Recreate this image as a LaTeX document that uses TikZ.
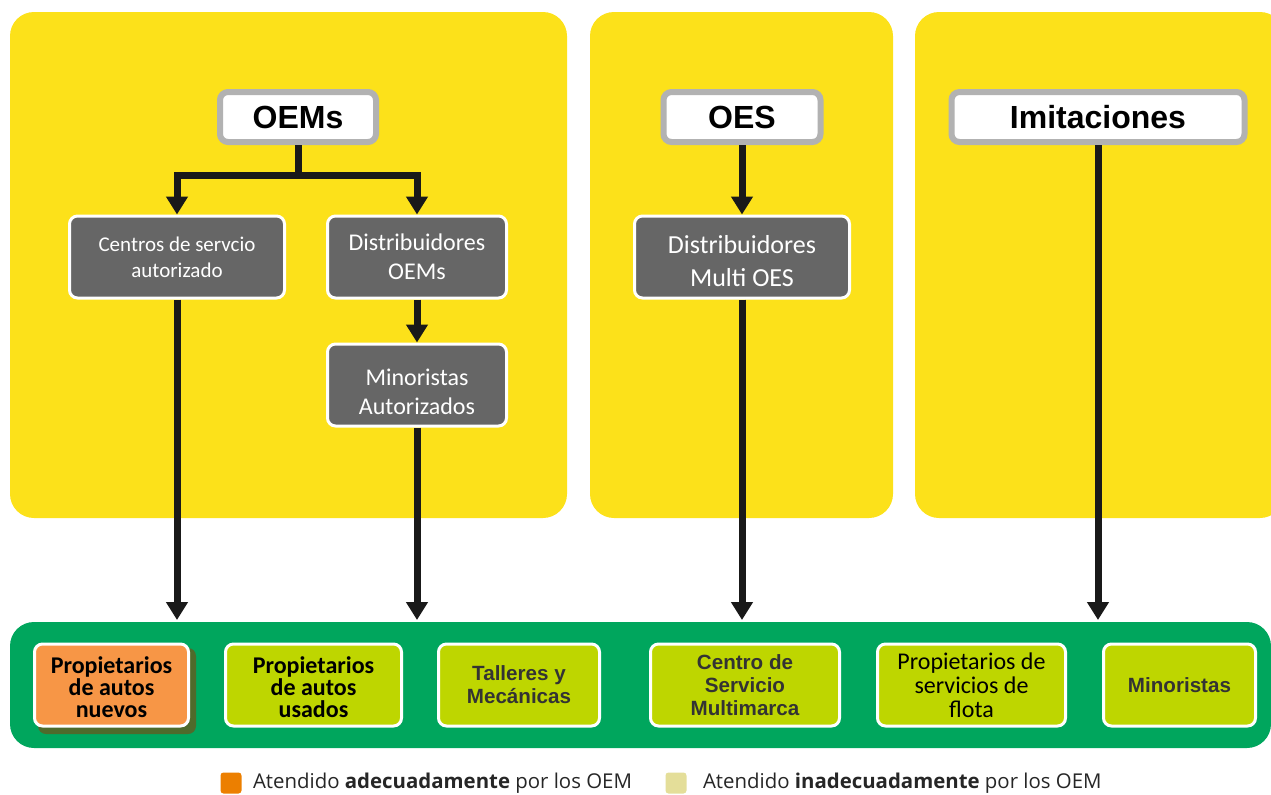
\documentclass[tikz,border=0pt]{standalone}
\usepackage{fontspec}
\setmainfont{Carlito}
\newfontfamily\arialf{Liberation Sans}
\newfontfamily\opensf{Open Sans}
\usetikzlibrary{arrows.meta,calc}
\definecolor{amarillo}{HTML}{FCE11A}
\definecolor{verdebar}{HTML}{00A65D}
\definecolor{lima}{HTML}{BED600}
\definecolor{naranja}{HTML}{F79646}
\definecolor{gris}{HTML}{666666}
\definecolor{grisborde}{HTML}{B2B2B2}
\definecolor{sombra}{HTML}{4F6A2B}
\definecolor{naranjaley}{HTML}{EC7F00}
\definecolor{palido}{HTML}{E4DE99}
\begin{document}
\begin{tikzpicture}[x=0.5pt,y=-0.5pt,
  panel/.style={fill=amarillo, rounded corners=12pt},
  marca/.style={draw=grisborde, line width=3pt, fill=white, rounded corners=4pt, minimum height=25pt, font=\arialf\bfseries\fontsize{16}{18}\selectfont},
  canal/.style={draw=white, line width=1.5pt, fill=gris, rounded corners=4pt, text=white, align=center, minimum width=107.5pt, minimum height=41pt},
  cliente/.style={draw=white, line width=1.5pt, fill=lima, rounded corners=4pt, align=center, minimum height=41pt},
  narrowtxt/.style={text=black!80, font=\arialf\bfseries\fontsize{10.3}{11.5}\selectfont},
  flecha/.style={line width=3.5pt, draw=black!90, -{Triangle[width=10.5pt,length=9pt]}},
]
\useasboundingbox (0,0) rectangle (1271,794);
% paneles
\fill[panel] (10,12) rectangle (567,518);
\fill[panel] (590,12) rectangle (893,518);
\fill[panel] (915,12) rectangle (1284,518);
\fill[verdebar, rounded corners=12pt] (10,622) rectangle (1271,748);

% fuentes de repuestos
\node[marca, minimum width=78pt] (oems) at (298,117) {OEMs};
\node[marca, minimum width=78.5pt] (oes) at (742,117) {OES};
\node[marca, minimum width=146.5pt] (imit) at (1098,117) {Imitaciones};

% canales
\node[canal, font=\fontsize{10.5}{13}\selectfont] (centros) at (177,257) {Centros de servcio\\autorizado};
\node[canal, minimum width=89.5pt, font=\fontsize{12}{14.5}\selectfont] (distoem) at (417,257) {Distribuidores\\OEMs};
\node[canal, minimum width=89.5pt, text height=30pt, font=\fontsize{12}{14.5}\selectfont] (minaut) at (417,385) {Minoristas\\Autorizados};
\node[canal, text height=30pt, font=\fontsize{13}{16.5}\selectfont] (distoes) at (742,257) {Distribuidores\\Multi OES};

% clientes
\fill[sombra, rounded corners=4pt] (38,648) rectangle (196,734);
\node[cliente, fill=naranja, minimum width=77pt, text height=33pt, font=\bfseries\fontsize{12}{11}\selectfont] (nuevos) at (111.5,685) {Propietarios\\de autos\\nuevos};
\node[cliente, minimum width=88pt, text height=33pt, font=\bfseries\fontsize{12}{11}\selectfont] (usados) at (313.5,685) {Propietarios\\de autos\\usados};
\node[cliente, minimum width=80.5pt, narrowtxt] (talleres) at (519,685) {Talleres y\\Mec\'anicas};
\node[cliente, minimum width=94.5pt, narrowtxt] (multimarca) at (745,685) {Centro de\\Servicio\\Multimarca};
\node[cliente, minimum width=94pt, font=\fontsize{12}{12}\selectfont] (flota) at (971.5,685) {Propietarios de\\servicios de\\flota};
\node[cliente, minimum width=76pt, narrowtxt] (minoristas) at (1179.5,685) {Minoristas};

% flechas
\coordinate (rama) at (298,175);
\coordinate (barra) at (0,620);
\draw[line width=3.5pt, draw=black!90] (oems.south) -- (rama);
\draw[flecha] (rama) -| (centros.north);
\draw[flecha] (rama) -| (distoem.north);
\draw[flecha] (distoem) -- (minaut);
\draw[flecha] (oes) -- (distoes);
\draw[flecha] (centros.south) -- (centros.south |- barra);
\draw[flecha] (minaut.south) -- (minaut.south |- barra);
\draw[flecha] (distoes.south) -- (distoes.south |- barra);
\draw[flecha] (imit.south) -- (imit.south |- barra);

% leyenda
\node[fill=naranjaley, rounded corners=1.5pt, minimum size=10.5pt, inner sep=0pt] (leyadec) at (231,783) {};
\node[right, text=black!85, font=\opensf\fontsize{10.2}{12}\selectfont] (txtadec) at (246,783) {Atendido \textbf{adecuadamente} por los OEM};
\node[fill=palido, rounded corners=1.5pt, minimum size=10.5pt, inner sep=0pt] (leyinad) at (676,783) {};
\node[right, text=black!85, font=\opensf\fontsize{10.2}{12}\selectfont] (txtinad) at (696,783) {Atendido \textbf{inadecuadamente} por los OEM};
\end{tikzpicture}
\end{document}
